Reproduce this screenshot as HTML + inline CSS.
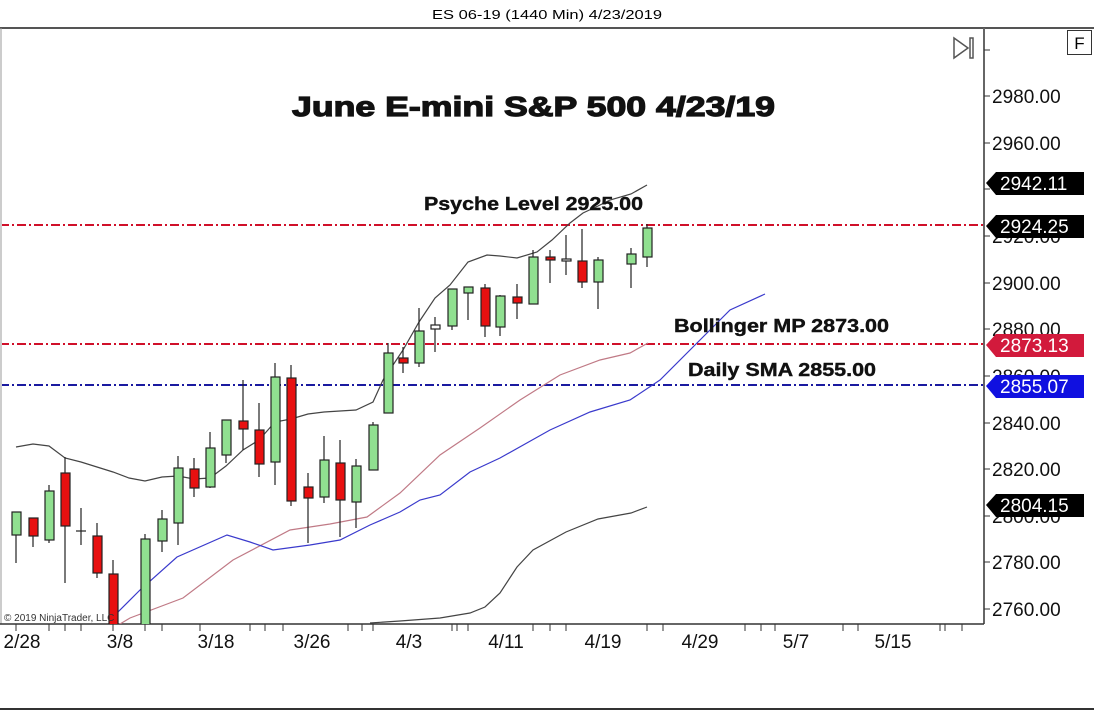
<!DOCTYPE html>
<html><head><meta charset="utf-8"><style>
html,body{margin:0;padding:0;background:#fff;}
svg{display:block;font-family:"Liberation Sans",Arial,sans-serif;}
</style></head><body>
<svg width="1094" height="711" viewBox="0 0 1094 711" xmlns="http://www.w3.org/2000/svg">
<rect width="1094" height="711" fill="#fff"/>
<text x="547" y="19" font-size="13" text-anchor="middle" fill="#000" textLength="230" lengthAdjust="spacingAndGlyphs">ES 06-19 (1440 Min)  4/23/2019</text>
<line x1="0" y1="28" x2="1094" y2="28" stroke="#555" stroke-width="2"/>
<line x1="0" y1="709" x2="1094" y2="709" stroke="#333" stroke-width="2"/>
<line x1="1" y1="28" x2="1" y2="624" stroke="#999" stroke-width="1"/>
<line x1="984" y1="28" x2="984" y2="624" stroke="#666" stroke-width="2"/>
<line x1="0" y1="624" x2="984" y2="624" stroke="#333" stroke-width="1.5"/>
<rect x="1067.5" y="30.5" width="24" height="24" fill="#fff" stroke="#333"/>
<text x="1079.5" y="49" font-size="17" text-anchor="middle">F</text>
<path d="M954 38 L968 48 L954 58 Z" fill="none" stroke="#555" stroke-width="1.5"/>
<rect x="970" y="38" width="3" height="20" fill="none" stroke="#555" stroke-width="1.5"/>
<g stroke="#333" stroke-width="1">
<line x1="984" y1="50" x2="990" y2="50"/>
<line x1="984" y1="96" x2="990" y2="96"/><line x1="984" y1="143" x2="990" y2="143"/><line x1="984" y1="189" x2="990" y2="189"/><line x1="984" y1="236" x2="990" y2="236"/><line x1="984" y1="283" x2="990" y2="283"/><line x1="984" y1="329" x2="990" y2="329"/><line x1="984" y1="376" x2="990" y2="376"/><line x1="984" y1="423" x2="990" y2="423"/><line x1="984" y1="469" x2="990" y2="469"/><line x1="984" y1="516" x2="990" y2="516"/><line x1="984" y1="562" x2="990" y2="562"/><line x1="984" y1="609" x2="990" y2="609"/>
</g>
<g font-size="19" fill="#111">
<text x="992" y="103">2980.00</text><text x="992" y="150">2960.00</text><text x="992" y="243">2920.00</text><text x="992" y="290">2900.00</text><text x="992" y="336">2880.00</text><text x="992" y="383">2860.00</text><text x="992" y="430">2840.00</text><text x="992" y="476">2820.00</text><text x="992" y="523">2800.00</text><text x="992" y="569">2780.00</text><text x="992" y="616">2760.00</text>
</g>
<g stroke="#333" stroke-width="1">
<line x1="16" y1="624" x2="16" y2="631"/><line x1="49" y1="624" x2="49" y2="631"/><line x1="65" y1="624" x2="65" y2="631"/><line x1="81" y1="624" x2="81" y2="631"/><line x1="113" y1="624" x2="113" y2="631"/><line x1="145" y1="624" x2="145" y2="631"/><line x1="162" y1="624" x2="162" y2="631"/><line x1="200" y1="624" x2="200" y2="631"/><line x1="250" y1="624" x2="250" y2="631"/><line x1="265" y1="624" x2="265" y2="631"/><line x1="283" y1="624" x2="283" y2="631"/><line x1="348" y1="624" x2="348" y2="631"/><line x1="362" y1="624" x2="362" y2="631"/><line x1="373" y1="624" x2="373" y2="631"/><line x1="452" y1="624" x2="452" y2="631"/><line x1="457" y1="624" x2="457" y2="631"/><line x1="468" y1="624" x2="468" y2="631"/><line x1="533" y1="624" x2="533" y2="631"/><line x1="550" y1="624" x2="550" y2="631"/><line x1="566" y1="624" x2="566" y2="631"/><line x1="647" y1="624" x2="647" y2="631"/><line x1="663" y1="624" x2="663" y2="631"/><line x1="745" y1="624" x2="745" y2="631"/><line x1="761" y1="624" x2="761" y2="631"/><line x1="775" y1="624" x2="775" y2="631"/><line x1="843" y1="624" x2="843" y2="631"/><line x1="858" y1="624" x2="858" y2="631"/><line x1="940" y1="624" x2="940" y2="631"/><line x1="945" y1="624" x2="945" y2="631"/><line x1="962" y1="624" x2="962" y2="631"/>
</g>
<g font-size="19" fill="#111" text-anchor="middle">
<text x="22" y="648">2/28</text><text x="120" y="648">3/8</text><text x="216" y="648">3/18</text><text x="312" y="648">3/26</text><text x="409" y="648">4/3</text><text x="506" y="648">4/11</text><text x="603" y="648">4/19</text><text x="700" y="648">4/29</text><text x="796" y="648">5/7</text><text x="893" y="648">5/15</text>
</g>
<defs><clipPath id="pc"><rect x="2" y="29" width="982" height="595"/></clipPath></defs>
<g clip-path="url(#pc)">
<line x1="0" y1="225" x2="984" y2="225" stroke="#d0102a" stroke-width="2" stroke-dasharray="9,3,2,3"/>
<line x1="0" y1="344" x2="984" y2="344" stroke="#d0102a" stroke-width="2" stroke-dasharray="9,3,2,3"/>
<line x1="0" y1="385" x2="984" y2="385" stroke="#1a1aa0" stroke-width="2" stroke-dasharray="9,3,2,3"/>
<polyline fill="none" stroke="#444" stroke-width="1.2" points="16,447 33,444 49,446 65,458 81,462 97,467 113,472 129,478 145,481 162,477 178,476 194,479 210,478 226,466 243,450 259,440 275,422 291,419 308,414 324,412 340,411 356,410 373,402 383,380 403,350 419,322 435,298 450,285 468,262 487,255 500,256 517,258 537,252 552,240 570,223 583,213 598,206 610,200 631,194 647,185"/>
<polyline fill="none" stroke="#444" stroke-width="1.2" points="370,623 400,621 440,618 470,613 485,607 500,593 517,567 533,550 566,532 598,519 631,513 647,507"/>
<polyline fill="none" stroke="#c07a86" stroke-width="1.2" points="110,630 130,618 183,598 233,560 290,530 330,524 367,517 400,493 440,455 480,428 520,400 560,375 600,360 630,353 648,343"/>
<polyline fill="none" stroke="#3a3acc" stroke-width="1.2" points="105,635 117,613 140,590 177,557 227,535 250,542 273,550 310,545 340,540 370,525 400,512 420,500 440,495 470,472 500,458 550,430 590,412 630,400 660,380 700,340 730,310 765,294"/>
<g stroke="#222" stroke-width="1.2">
<line x1="16" y1="512" x2="16" y2="563"/><rect x="12" y="512" width="9" height="23" fill="#90e090"/>
<line x1="33" y1="518" x2="33" y2="547"/><rect x="29" y="518" width="9" height="18" fill="#e81010"/>
<line x1="49" y1="485" x2="49" y2="543"/><rect x="45" y="491" width="9" height="49" fill="#90e090"/>
<line x1="65" y1="457" x2="65" y2="583"/><rect x="61" y="473" width="9" height="53" fill="#e81010"/>
<line x1="81" y1="508" x2="81" y2="545"/><line x1="76" y1="531" x2="86" y2="531"/>
<line x1="97" y1="523" x2="97" y2="578"/><rect x="93" y="536" width="9" height="37" fill="#e81010"/>
<line x1="113" y1="560" x2="113" y2="630"/><rect x="109" y="574" width="9" height="55" fill="#e81010"/>
<line x1="145" y1="534" x2="145" y2="630"/><rect x="141" y="539" width="9" height="90" fill="#90e090"/>
<line x1="162" y1="510" x2="162" y2="552"/><rect x="158" y="519" width="9" height="22" fill="#90e090"/>
<line x1="178" y1="456" x2="178" y2="545"/><rect x="174" y="468" width="9" height="55" fill="#90e090"/>
<line x1="194" y1="458" x2="194" y2="497"/><rect x="190" y="469" width="9" height="19" fill="#e81010"/>
<line x1="210" y1="432" x2="210" y2="488"/><rect x="206" y="448" width="9" height="39" fill="#90e090"/>
<line x1="226" y1="420" x2="226" y2="463"/><rect x="222" y="420" width="9" height="35" fill="#90e090"/>
<line x1="243" y1="380" x2="243" y2="450"/><rect x="239" y="421" width="9" height="8" fill="#e81010"/>
<line x1="259" y1="403" x2="259" y2="477"/><rect x="255" y="430" width="9" height="34" fill="#e81010"/>
<line x1="275" y1="363" x2="275" y2="485"/><rect x="271" y="377" width="9" height="85" fill="#90e090"/>
<line x1="291" y1="365" x2="291" y2="506"/><rect x="287" y="378" width="9" height="123" fill="#e81010"/>
<line x1="308" y1="473" x2="308" y2="543"/><rect x="304" y="487" width="9" height="11" fill="#e81010"/>
<line x1="324" y1="436" x2="324" y2="503"/><rect x="320" y="460" width="9" height="37" fill="#90e090"/>
<line x1="340" y1="440" x2="340" y2="537"/><rect x="336" y="463" width="9" height="37" fill="#e81010"/>
<line x1="356" y1="459" x2="356" y2="528"/><rect x="352" y="466" width="9" height="36" fill="#90e090"/>
<line x1="373" y1="422" x2="373" y2="470"/><rect x="369" y="425" width="9" height="45" fill="#90e090"/>
<line x1="388" y1="343" x2="388" y2="413"/><rect x="384" y="353" width="9" height="60" fill="#90e090"/>
<line x1="403" y1="347" x2="403" y2="373"/><rect x="399" y="358" width="9" height="5" fill="#e81010"/>
<line x1="419" y1="308" x2="419" y2="367"/><rect x="415" y="331" width="9" height="32" fill="#90e090"/>
<line x1="435" y1="317" x2="435" y2="352"/><rect x="431" y="325" width="9" height="4" fill="#fff"/>
<line x1="452" y1="289" x2="452" y2="330"/><rect x="448" y="289" width="9" height="37" fill="#90e090"/>
<line x1="468" y1="287" x2="468" y2="320"/><rect x="464" y="287" width="9" height="6" fill="#90e090"/>
<line x1="485" y1="284" x2="485" y2="337"/><rect x="481" y="288" width="9" height="38" fill="#e81010"/>
<line x1="500" y1="295" x2="500" y2="336"/><rect x="496" y="296" width="9" height="31" fill="#90e090"/>
<line x1="517" y1="284" x2="517" y2="319"/><rect x="513" y="297" width="9" height="6" fill="#e81010"/>
<line x1="533" y1="250" x2="533" y2="304"/><rect x="529" y="257" width="9" height="47" fill="#90e090"/>
<line x1="550" y1="250" x2="550" y2="283"/><rect x="546" y="257" width="9" height="3" fill="#e81010"/>
<line x1="566" y1="235" x2="566" y2="275"/><rect x="562" y="259" width="9" height="2" fill="#fff"/>
<line x1="582" y1="229" x2="582" y2="288"/><rect x="578" y="261" width="9" height="21" fill="#e81010"/>
<line x1="598" y1="257" x2="598" y2="309"/><rect x="594" y="260" width="9" height="22" fill="#90e090"/>
<line x1="631" y1="248" x2="631" y2="288"/><rect x="627" y="254" width="9" height="10" fill="#90e090"/>
<line x1="647" y1="224" x2="647" y2="267"/><rect x="643" y="228" width="9" height="29" fill="#90e090"/>
</g>
</g>
<text x="4" y="621" font-size="10" fill="#333">© 2019 NinjaTrader, LLC</text>
<g font-weight="bold" fill="#111" stroke="#111">
<text x="292" y="116" font-size="28" stroke-width="1.2" textLength="483" lengthAdjust="spacingAndGlyphs">June E-mini S&amp;P 500 4/23/19</text>
<text x="424" y="210" font-size="18" stroke-width="0.4" textLength="219" lengthAdjust="spacingAndGlyphs">Psyche Level 2925.00</text>
<text x="674" y="332" font-size="18" stroke-width="0.4" textLength="215" lengthAdjust="spacingAndGlyphs">Bollinger MP 2873.00</text>
<text x="688" y="376" font-size="18" stroke-width="0.4" textLength="188" lengthAdjust="spacingAndGlyphs">Daily SMA 2855.00</text>
</g>
<g font-size="19" fill="#fff">
<path d="M986 183 L996 172 L1084 172 L1084 195 L996 195 Z" fill="#000"/><text x="1000" y="190">2942.11</text>
<path d="M986 226 L996 215 L1084 215 L1084 238 L996 238 Z" fill="#000"/><text x="1000" y="233">2924.25</text>
<path d="M986 345 L996 334 L1084 334 L1084 357 L996 357 Z" fill="#d21a3c"/><text x="1000" y="352">2873.13</text>
<path d="M986 386 L996 375 L1084 375 L1084 398 L996 398 Z" fill="#1010e0"/><text x="1000" y="393">2855.07</text>
<path d="M986 505 L996 494 L1084 494 L1084 517 L996 517 Z" fill="#000"/><text x="1000" y="512">2804.15</text>
</g>
</svg>
</body></html>
